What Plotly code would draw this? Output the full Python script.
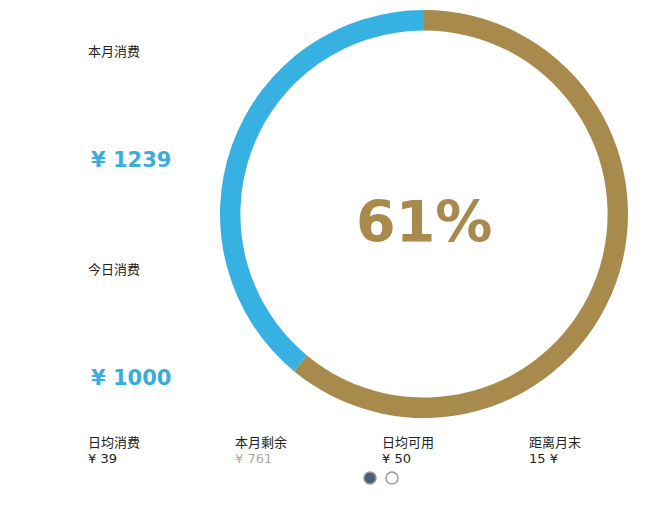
import plotly.graph_objects as go

# ring data
labels = ['已用', '剩余']
values = [61, 39]
colors = ['#A98A4D', '#37B1E2']
center_text = '61%'

# left side stats
left_titles = ['本月消费', '今日消费']
left_values = ['¥ 1239', '¥ 1000']

# bottom row stats
bottom_titles = ['日均消费', '本月剩余', '日均可用', '距离月末']
bottom_values = ['¥ 39', '¥ 761', '¥ 50', '15 ¥']
bottom_colors = ['#222222', '#AAAAAA', '#222222', '#222222']

W, H = 662, 521
OFF = 8  # page body margin
cjk = 'Noto Sans CJK SC, Lato, sans-serif'


def px_x(x):
    return (x - OFF) / W


def px_y(y):
    return 1 - (y - OFF) / H


fig = go.Figure(go.Pie(
    labels=labels, values=values,
    hole=0.9, sort=False, direction='clockwise', rotation=0,
    marker=dict(colors=colors, line=dict(width=0)),
    textinfo='none', hoverinfo='label+percent',
    domain=dict(x=[px_x(220), px_x(628)], y=[px_y(418), px_y(10)]),
    showlegend=False,
))

ann = []
ann.append(dict(x=px_x(424), y=px_y(222), text='<b>' + center_text + '</b>',
                showarrow=False,
                font=dict(family='DejaVu Sans', size=57, color=colors[0]),
                xanchor='center', yanchor='middle'))

for i, (t, v) in enumerate(zip(left_titles, left_values)):
    ty = 50 + i * 218
    ann.append(dict(x=px_x(86), y=px_y(ty), text=t, showarrow=False,
                    font=dict(family=cjk, size=13, color='#222222'),
                    xanchor='left', yanchor='middle'))
    ann.append(dict(x=px_x(89), y=px_y(ty + 110), text='<b>' + v + '</b>',
                    showarrow=False,
                    font=dict(family='DejaVu Sans', size=21, color='#3AAEDB'),
                    xanchor='left', yanchor='middle'))

for i, (t, v, c) in enumerate(zip(bottom_titles, bottom_values, bottom_colors)):
    bx = 86 + i * 147
    ann.append(dict(x=px_x(bx), y=px_y(441), text=t, showarrow=False,
                    font=dict(family=cjk, size=13, color='#222222'),
                    xanchor='left', yanchor='middle'))
    ann.append(dict(x=px_x(bx), y=px_y(458), text=v, showarrow=False,
                    font=dict(family='DejaVu Sans', size=13, color=c),
                    xanchor='left', yanchor='middle'))

# page indicator dots
shapes = [
    dict(type='circle', xref='paper', yref='paper',
         x0=px_x(364), x1=px_x(376), y0=px_y(484), y1=px_y(472),
         line=dict(color='#999999', width=1.5), fillcolor='#4A5E78'),
    dict(type='circle', xref='paper', yref='paper',
         x0=px_x(386), x1=px_x(398), y0=px_y(484), y1=px_y(472),
         line=dict(color='#999999', width=1.5), fillcolor='white'),
]

fig.update_layout(
    width=W, height=H,
    margin=dict(l=0, r=0, t=0, b=0),
    paper_bgcolor='white', plot_bgcolor='white',
    annotations=ann, shapes=shapes,
)

fig.write_html('out.html')
